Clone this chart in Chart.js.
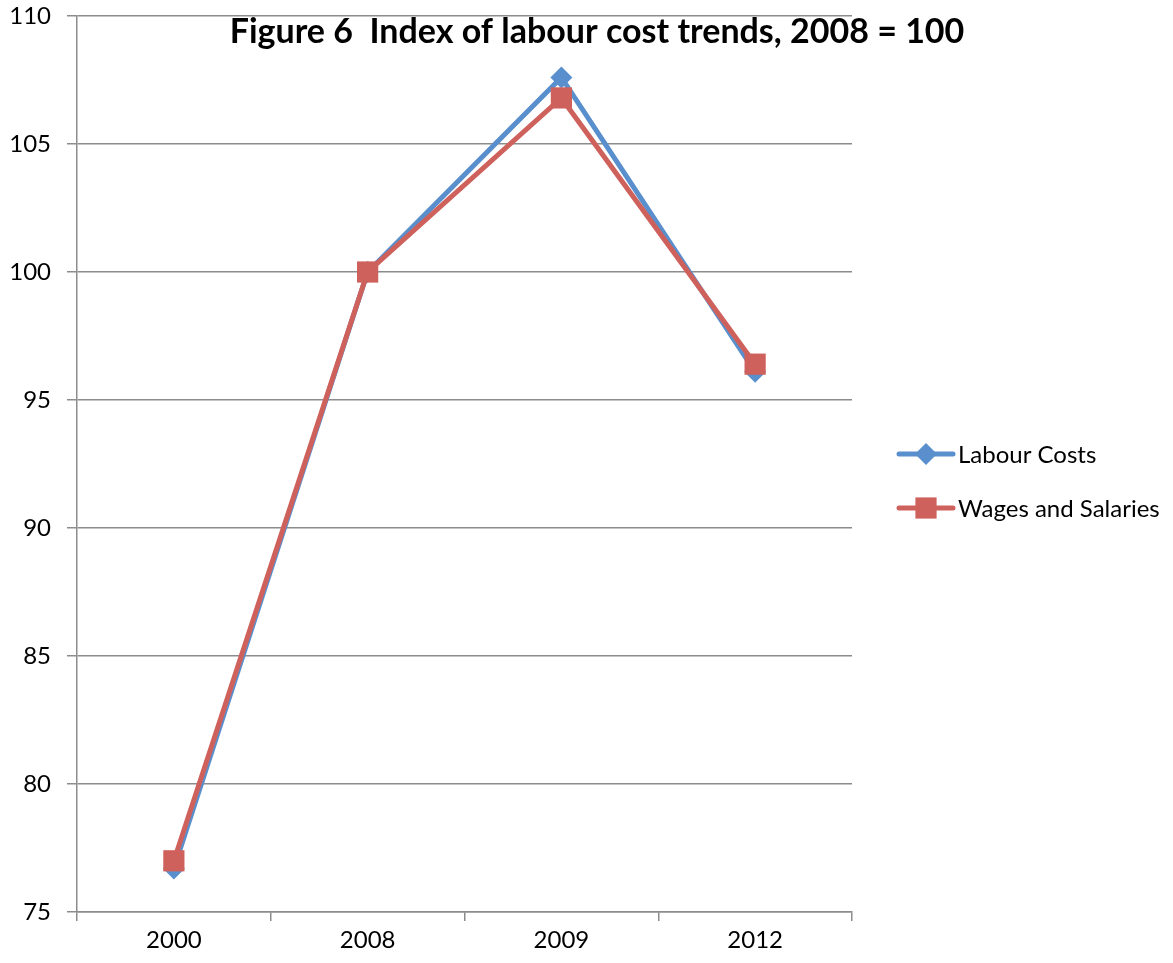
<!DOCTYPE html>
<html>
<head>
<meta charset="utf-8">
<script src="https://cdn.jsdelivr.net/npm/chart.js@4"></script>
<style>
  html, body { margin: 0; padding: 0; background: #fff; }
  #wrap { width: 1173px; height: 963px; position: relative; }
</style>
</head>
<body>
<div id="wrap"><canvas id="chart" width="1173" height="963"></canvas></div>
<script>
// data
const years = ["2000", "2008", "2009", "2012"];
const labourCosts = [76.7, 100, 107.6, 96.1];
const wagesSalaries = [77.0, 100, 106.8, 96.4];
const yTicks = [75, 80, 85, 90, 95, 100, 105, 110];

const FONT = "Lato, 'Open Sans', sans-serif";
const BLUE = "#5A8FCD";
const RED = "#CF615C";
const GRID = "#8c8c8c";

// title sits inside the plot, legend on the right - both drawn by hand
const extras = {
  id: "extras",
  afterDraw(chart) {
    const ctx = chart.ctx;
    ctx.save();
    ctx.fillStyle = "#000";
    ctx.font = `bold 34px ${FONT}`;
    ctx.textAlign = "center";
    ctx.textBaseline = "middle";
    ctx.fillText("Figure 6  Index of labour cost trends, 2008 = 100", 597, 32);

    const items = [
      { label: "Labour Costs", color: BLUE, style: "rectRot", r: 11, y: 454 },
      { label: "Wages and Salaries", color: RED, style: "rect", r: 15, y: 508 },
    ];
    ctx.font = `24px ${FONT}`;
    ctx.textAlign = "left";
    for (const it of items) {
      ctx.strokeStyle = it.color;
      ctx.lineWidth = 5;
      ctx.lineCap = "round";
      ctx.beginPath();
      ctx.moveTo(899, it.y);
      ctx.lineTo(953, it.y);
      ctx.stroke();
      ctx.fillStyle = it.color;
      Chart.helpers.drawPoint(ctx, { pointStyle: it.style, radius: it.r, borderWidth: 0 }, 926, it.y);
      ctx.fillStyle = "#000";
      ctx.fillText(it.label, 958, it.y + 1);
    }
    ctx.restore();
  },
};

new Chart(document.getElementById("chart"), {
  type: "line",
  data: {
    labels: years,
    datasets: [
      {
        label: "Labour Costs",
        data: labourCosts,
        borderColor: BLUE,
        backgroundColor: BLUE,
        borderWidth: 5,
        pointStyle: "rectRot",
        pointRadius: 11,
        pointBorderWidth: 0,
        order: 1,
      },
      {
        label: "Wages and Salaries",
        data: wagesSalaries,
        borderColor: RED,
        backgroundColor: RED,
        borderWidth: 5,
        pointStyle: "rect",
        pointRadius: 15,
        pointBorderWidth: 0,
        order: 0,
      },
    ],
  },
  options: {
    responsive: false,
    animation: false,
    layout: { padding: { top: 16, right: 321, left: 0, bottom: 0 } },
    plugins: { legend: { display: false }, tooltip: { enabled: false } },
    scales: {
      x: {
        offset: true,
        grid: { offset: true, drawOnChartArea: false, color: GRID, tickLength: 9, lineWidth: 1.5 },
        border: { color: GRID, width: 1.5 },
        ticks: { color: "#000", font: { family: FONT, size: 24 }, padding: 5 },
        afterFit: (s) => { s.height = 51; s.paddingLeft = 0; s.paddingRight = 0; },
      },
      y: {
        min: 75,
        max: 110,
        afterBuildTicks: (s) => { s.ticks = yTicks.map((v) => ({ value: v })); },
        grid: { color: GRID, tickLength: 10, lineWidth: 1.5 },
        border: { color: GRID, width: 1.5 },
        ticks: { color: "#000", font: { family: FONT, size: 24 }, padding: 16 },
        afterFit: (s) => { s.width = 77; s.paddingTop = 0; s.paddingBottom = 0; },
      },
    },
  },
  plugins: [extras],
});
</script>
</body>
</html>
